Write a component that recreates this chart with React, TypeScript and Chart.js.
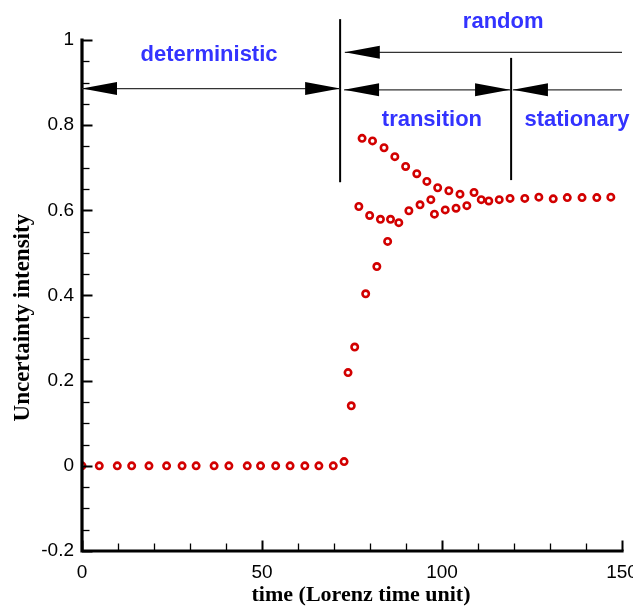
import React, { useEffect, useRef } from "react";
import { Chart, registerables } from "chart.js";

Chart.register(...registerables);

// ---- data ----
const times = [
  0, 4.8, 9.8, 13.8, 18.6, 23.5, 27.8, 31.7, 36.7, 40.8, 45.9, 49.6, 53.8, 57.8, 61.9, 65.8, 69.8, 72.8,
  73.9, 74.8, 75.75, 76.9, 77.8, 78.8, 79.9, 80.7, 81.9, 82.9, 83.9, 84.9, 85.7, 86.9, 88.0, 89.9,
  90.8, 93.0, 93.9, 95.8, 96.9, 97.9, 98.8, 100.9, 101.9, 103.9, 105.0, 106.9, 108.9, 110.9, 113.0,
  115.9, 118.9, 123.0, 126.9, 130.9, 134.8, 138.9, 143.0, 146.9,
];
const intensity = [
  0, 0, 0, 0, 0, 0, 0, 0, 0, 0, 0, 0, 0, 0, 0, 0, 0, 0.01,
  0.219, 0.141, 0.279, 0.609, 0.769, 0.404, 0.588, 0.763, 0.468, 0.579, 0.747, 0.527, 0.579, 0.726, 0.571, 0.703,
  0.599, 0.686, 0.613, 0.668, 0.625, 0.591, 0.653, 0.601, 0.646, 0.605, 0.638, 0.611, 0.642, 0.625, 0.622,
  0.625, 0.628, 0.628, 0.631, 0.627, 0.63, 0.63, 0.63, 0.631,
];

const xMin = 0;
const xMax = 150;
const yMin = -0.2;
const yMax = 1;
const xMajorStep = 50;
const xMinorStep = 10;
const yMajorStep = 0.2;
const yMinorStep = 0.05;

const xTitle = "time (Lorenz time unit)";
const yTitle = "Uncertainty intensity";

// regime annotations (data coordinates)
const regionNames = ["deterministic", "random", "transition", "stationary"];
const regionTextX = [35.3, 117, 97.2, 137.5];
const regionTextY = [0.951, 1.028, 0.798, 0.798];

const boundaryT = [71.7, 119.2];
const boundaryTop = [1.049, 0.958];
const boundaryBottom = [0.666, 0.671];

// arrows
const arrowStart = [0, 73, 72.8, 119.7];
const arrowEnd = [71.7, 150, 118.9, 150];
const arrowLevel = [0.886, 0.971, 0.883, 0.883];
const arrowHeadStart = [true, true, true, true];
const arrowHeadEnd = [true, false, true, false];

const SANS = '"Liberation Sans", Arial, Helvetica, sans-serif';
const SERIF = '"Liberation Serif", "Times New Roman", Times, serif';
const RED = "rgb(210,0,0)";
const BLUE = "rgb(51,51,255)";

const fmt = (v: number) => {
  const r = Math.round(v * 100) / 100;
  return r === 0 ? "0" : String(r);
};

const overlayPlugin = {
  id: "overlay",
  afterDatasetsDraw(chart: any) {
    const ctx: CanvasRenderingContext2D = chart.ctx;
    const xs = chart.scales.x;
    const ys = chart.scales.y;
    const px = (v: number) => xs.getPixelForValue(v);
    const py = (v: number) => ys.getPixelForValue(v);
    ctx.save();

    // axes
    ctx.strokeStyle = "#000";
    ctx.lineWidth = 3.2;
    ctx.lineCap = "square";
    ctx.beginPath();
    ctx.moveTo(px(xMin), py(yMax));
    ctx.lineTo(px(xMin), py(yMin));
    ctx.lineTo(px(xMax), py(yMin));
    ctx.stroke();

    // ticks (inward)
    ctx.lineCap = "butt";
    const nearMult = (v: number, s: number) => Math.abs(v / s - Math.round(v / s)) < 1e-6;
    const ny = Math.round((yMax - yMin) / yMinorStep);
    for (let i = 0; i <= ny; i++) {
      const v = yMin + i * yMinorStep;
      const major = nearMult(v, yMajorStep);
      ctx.lineWidth = major ? 2 : 1.3;
      const len = major ? 9 : 6;
      const y = Math.round(py(v)) + 0.5;
      ctx.beginPath();
      ctx.moveTo(px(xMin), y);
      ctx.lineTo(px(xMin) + len + 1.5, y);
      ctx.stroke();
    }
    const nx = Math.round((xMax - xMin) / xMinorStep);
    for (let i = 0; i <= nx; i++) {
      const v = xMin + i * xMinorStep;
      const major = nearMult(v, xMajorStep);
      ctx.lineWidth = major ? 2 : 1.3;
      const len = major ? 9 : 6;
      const x = Math.round(px(v)) + 0.5;
      ctx.beginPath();
      ctx.moveTo(x, py(yMin));
      ctx.lineTo(x, py(yMin) - len - 1.5);
      ctx.stroke();
    }

    // boundaries
    ctx.lineWidth = 2;
    ctx.strokeStyle = "#000";
    for (let i = 0; i < boundaryT.length; i++) {
      const x = px(boundaryT[i]);
      ctx.beginPath();
      ctx.moveTo(x, py(boundaryTop[i]));
      ctx.lineTo(x, py(boundaryBottom[i]));
      ctx.stroke();
    }

    // arrows
    const headLen = 35;
    const headHalf = 6.5;
    const head = (tipX: number, y: number, dir: number) => {
      ctx.beginPath();
      ctx.moveTo(tipX, y);
      ctx.lineTo(tipX + dir * headLen, y - headHalf);
      ctx.lineTo(tipX + dir * headLen, y + headHalf);
      ctx.closePath();
      ctx.fill();
    };
    ctx.fillStyle = "#000";
    for (let i = 0; i < arrowStart.length; i++) {
      const x1 = px(arrowStart[i]);
      const x2 = px(arrowEnd[i]);
      const y = py(arrowLevel[i]);
      ctx.strokeStyle = "#333";
      ctx.lineWidth = 1.2;
      ctx.beginPath();
      ctx.moveTo(x1, y);
      ctx.lineTo(x2, y);
      ctx.stroke();
      if (arrowHeadStart[i]) head(x1, y, 1);
      if (arrowHeadEnd[i]) head(x2, y, -1);
    }

    // region labels
    ctx.fillStyle = BLUE;
    ctx.font = `bold 22px ${SANS}`;
    ctx.textAlign = "center";
    ctx.textBaseline = "alphabetic";
    for (let i = 0; i < regionNames.length; i++) {
      ctx.fillText(regionNames[i], px(regionTextX[i]), py(regionTextY[i]));
    }

    // axis titles
    ctx.fillStyle = "#000";
    ctx.font = `bold 22px ${SERIF}`;
    ctx.textAlign = "center";
    ctx.textBaseline = "alphabetic";
    ctx.fillText(xTitle, px(77.5), chart.height - 6);
    ctx.font = `bold 23px ${SERIF}`;
    ctx.translate(29, py(0.348));
    ctx.rotate(-Math.PI / 2);
    ctx.fillText(yTitle, 0, 0);

    ctx.restore();
  },
};

export default function App() {
  const ref = useRef<HTMLCanvasElement | null>(null);

  useEffect(() => {
    if (!ref.current) return;
    const points = times.map((t, i) => ({ x: t, y: intensity[i] }));
    const chart = new Chart(ref.current, {
      type: "scatter",
      data: {
        datasets: [
          {
            data: points,
            pointStyle: "circle",
            pointRadius: 3.2,
            pointBorderWidth: 2.6,
            borderColor: RED,
            pointBorderColor: RED,
            backgroundColor: "rgba(255,255,255,0)",
            pointBackgroundColor: "rgba(255,255,255,0)",
            showLine: false,
          } as any,
        ],
      },
      options: {
        animation: false,
        responsive: false,
        devicePixelRatio: 1,
        layout: { padding: { top: 40, right: 11, left: 0, bottom: 0 } },
        plugins: { legend: { display: false }, tooltip: { enabled: false } },
        scales: {
          x: {
            type: "linear",
            min: xMin,
            max: xMax,
            grid: { display: false, drawTicks: false },
            border: { display: false },
            ticks: {
              stepSize: xMajorStep,
              color: "#000",
              font: { family: SANS, size: 19 },
              padding: 10,
              maxRotation: 0,
              autoSkip: false,
              callback: (v: any) => fmt(Number(v)),
            },
            afterFit(s: any) {
              s.height = 56;
              s.paddingLeft = 0;
              s.paddingRight = 0;
            },
          },
          y: {
            type: "linear",
            min: yMin,
            max: yMax,
            grid: { display: false, drawTicks: false },
            border: { display: false },
            ticks: {
              stepSize: yMajorStep,
              color: "#000",
              font: { family: SANS, size: 19 },
              padding: 8,
              callback: (v: any) => fmt(Number(v)),
            },
            afterFit(s: any) {
              s.width = 82;
            },
          },
        },
      } as any,
      plugins: [overlayPlugin],
    });
    return () => chart.destroy();
  }, []);

  return (
    <div style={{ position: "absolute", left: 0, top: 0, width: 633, height: 607, background: "#fff" }}>
      <canvas ref={ref} width={633} height={607} style={{ display: "block", width: 633, height: 607 }} />
    </div>
  );
}
